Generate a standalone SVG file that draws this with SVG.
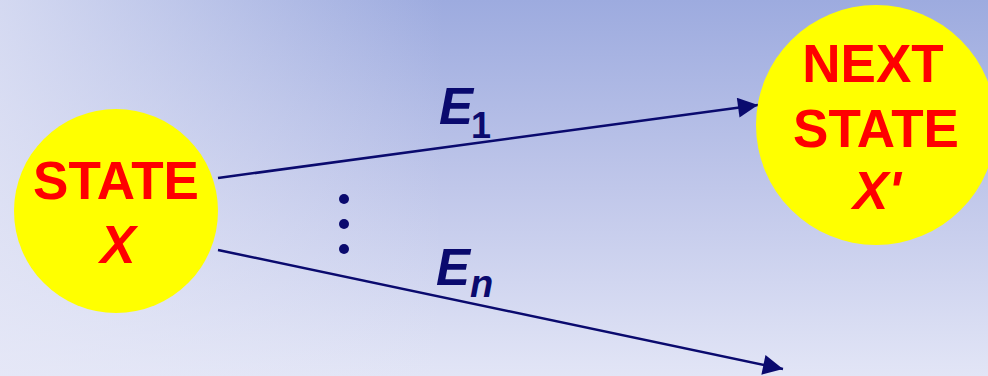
<svg xmlns="http://www.w3.org/2000/svg" width="988" height="376" viewBox="0 0 988 376">
<defs>
<linearGradient id="bgv" x1="0" y1="0" x2="0" y2="1">
<stop offset="0" stop-color="#9dabdf"/>
<stop offset="0.5" stop-color="#c0c7ea"/>
<stop offset="1" stop-color="#e2e5f6"/>
</linearGradient>
<linearGradient id="bgh" x1="0" y1="0" x2="1" y2="0">
<stop offset="0" stop-color="#e6e8f7" stop-opacity="0.75"/>
<stop offset="0.45" stop-color="#e6e8f7" stop-opacity="0"/>
</linearGradient>
<marker id="arr" viewBox="0 0 10 10" refX="10" refY="5" markerWidth="9" markerHeight="8" markerUnits="strokeWidth" orient="auto">
<path d="M0,0 L10,5 L0,10 Z" fill="#0a0a6e"/>
</marker>
<style>
.node{fill:#ffff00;}
.lbl{font-family:"Liberation Sans",Arial,sans-serif;font-weight:bold;fill:#ff0000;font-size:53px;text-anchor:middle;}
.it{font-style:italic;}
.conn{stroke:#0a0a6e;stroke-width:2.5;fill:none;marker-end:url(#arr);}
.ev{font-family:"Liberation Sans",Arial,sans-serif;font-weight:bold;font-style:italic;fill:#0a0a6e;}
</style>
</defs>
<rect width="988" height="376" fill="url(#bgv)"/>
<rect width="988" height="376" fill="url(#bgh)"/>
<g id="connectors">
<line class="conn" x1="218" y1="178" x2="758" y2="105"/>
<line class="conn" x1="218" y1="250" x2="783" y2="369"/>
<g fill="#0a0a6e">
<circle cx="344" cy="199" r="5"/>
<circle cx="344" cy="224" r="5"/>
<circle cx="344" cy="249" r="5"/>
</g>
<text class="ev" x="439" y="124" font-size="51">E<tspan font-size="36" font-style="normal" dx="-2" dy="14">1</tspan></text>
<text class="ev" x="436" y="285" font-size="51">E<tspan font-size="38" dy="12">n</tspan></text>
</g>
<g id="state-x">
<circle class="node" cx="116" cy="211" r="102"/>
<text class="lbl" x="116" y="199">STATE</text>
<text class="lbl it" x="118" y="263">X</text>
</g>
<g id="next-state">
<circle class="node" cx="876" cy="125" r="120"/>
<text class="lbl" x="873" y="82">NEXT</text>
<text class="lbl" x="876" y="147">STATE</text>
<text class="lbl it" x="877" y="209">X'</text>
</g>
</svg>
